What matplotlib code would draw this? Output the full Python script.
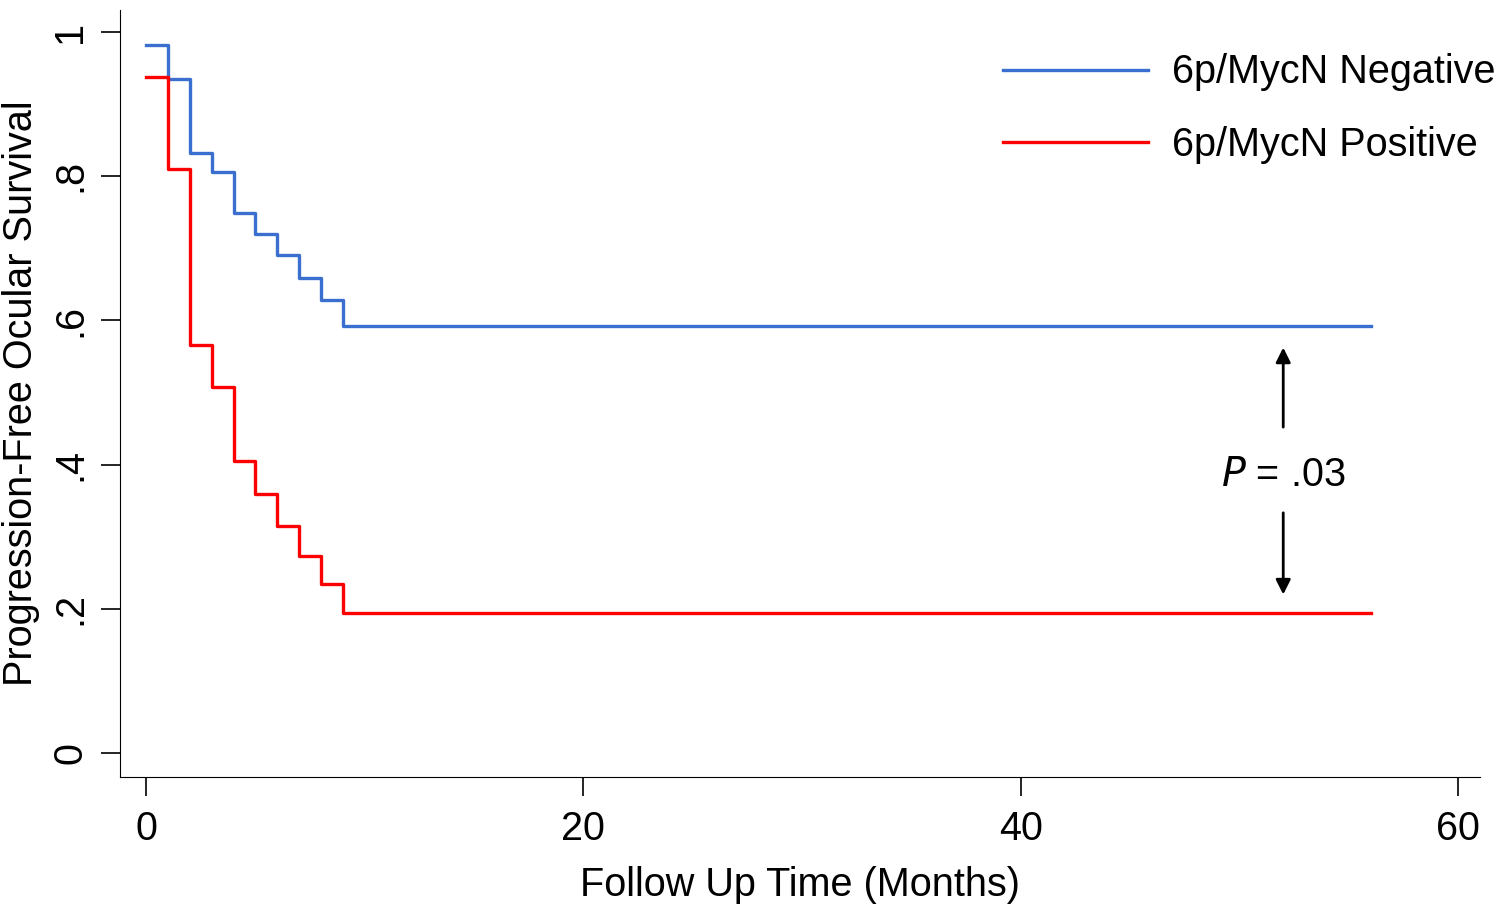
import matplotlib
matplotlib.use('Agg')
from matplotlib import pyplot as plt

plt.rcParams['font.family'] = ['Liberation Sans', 'DejaVu Sans']

# step times (months) and survival levels
neg_times = [0, 1, 2, 3, 4, 5, 6, 7, 8, 9, 56]
neg_surv = [0.981, 0.935, 0.832, 0.805, 0.749, 0.720, 0.691, 0.659, 0.628, 0.592, 0.592]
pos_times = [0, 1, 2, 3, 4, 5, 6, 7, 8, 9, 56]
pos_surv = [0.937, 0.810, 0.566, 0.507, 0.405, 0.359, 0.315, 0.273, 0.234, 0.194, 0.194]

x_ticks = [0, 20, 40, 60]
y_ticks = [0, 0.2, 0.4, 0.6, 0.8, 1]
y_ticklabels = ['0', '.2', '.4', '.6', '.8', '1']

FS = 28.5

fig = plt.figure(figsize=(15, 9.06), dpi=100)
ax = fig.add_axes([0.08, 0.1424, 0.9067, 0.8466])

ax.step(neg_times, neg_surv, where='post', color='#3a6fd0', lw=2.4, label='6p/MycN Negative')
ax.step(pos_times, pos_surv, where='post', color='#ff0000', lw=2.4, label='6p/MycN Positive')

ax.set_xlim(-1.19, 61.0)
ax.set_ylim(-0.033, 1.03)
ax.set_xticks(x_ticks)
ax.set_yticks(y_ticks)
ax.set_yticklabels(y_ticklabels, rotation=90, va='center')
for s in ['top', 'right']:
    ax.spines[s].set_visible(False)
ax.tick_params(direction='out', length=14, width=1.2, labelsize=FS)
ax.tick_params(axis='x', pad=10)
ax.tick_params(axis='y', pad=8)
ax.set_xlabel('Follow Up Time (Months)', fontsize=FS, labelpad=13)
ax.set_ylabel('Progression-Free Ocular Survival', fontsize=FS, labelpad=8)

# p-value annotation between the curves
ax.annotate('', xy=(52, 0.566), xytext=(52, 0.448),
            arrowprops=dict(arrowstyle='-|>', color='black', lw=2, mutation_scale=22))
ax.annotate('', xy=(52, 0.216), xytext=(52, 0.337),
            arrowprops=dict(arrowstyle='-|>', color='black', lw=2, mutation_scale=22))
ax.text(52, 0.385, r'$\it{P}$ = .03', fontsize=FS, ha='center', va='center')

ax.legend(loc='upper left', bbox_to_anchor=(0.6687, 0.941), bbox_transform=fig.transFigure,
          frameon=False, fontsize=FS, borderpad=0, borderaxespad=0,
          handlelength=3.66, handletextpad=0.6, labelspacing=0.87)

plt.savefig('out.png')
